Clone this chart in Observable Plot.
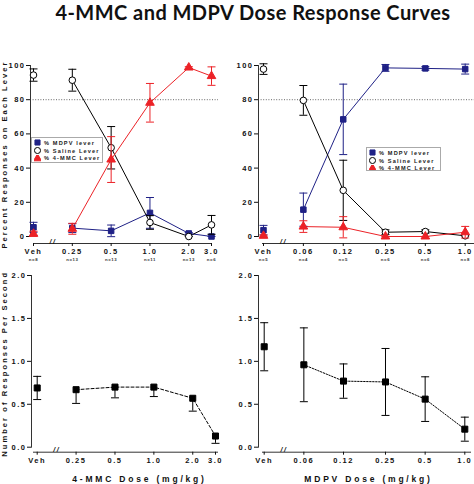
<!DOCTYPE html>
<html>
<head>
<meta charset="utf-8">
<script src="https://cdn.jsdelivr.net/npm/d3@7"></script>
<script src="https://cdn.jsdelivr.net/npm/@observablehq/plot@0.6"></script>
<style>
  body { margin: 0; background: #fff; }
  #fig { position: relative; width: 474px; height: 484px; overflow: hidden; background: #fff; }
  #title { position: absolute; left: 0; top: 0; width: 474px; padding-left: 32px; box-sizing: border-box; text-align: center;
           line-height: normal; font-family: Lato, "Open Sans", sans-serif; font-weight: bold; font-size: 20px;
           letter-spacing: 0.45px; color: #111; white-space: nowrap; }
  .panel { position: absolute; }
  .panel svg { max-width: none; display: block; }
  .legend { position: absolute; border: 1px solid #aaa; background: #fff; padding: 1px 2px;
            font-family: "Liberation Sans", Arial, sans-serif; font-weight: bold; font-size: 5.6px;
            letter-spacing: 1.15px; color: #222; box-sizing: border-box; overflow: hidden; }
  .legend .row { display: flex; align-items: center; height: 7.8px; white-space: nowrap; }
  .legend svg { margin-right: 3px; flex: none; }
</style>
</head>
<body>
<div id="fig"><div id="title">4-MMC and MDPV Dose Response Curves</div></div>
<script>
// ---------- data ----------
const mmcDoseLabels = ["Veh", "0.25", "0.5", "1.0", "2.0", "3.0"];
const mmcNLabels = ["n=8", "n=13", "n=13", "n=11", "n=13", "n=6"];
const mdpvDoseLabels = ["Veh", "0.06", "0.12", "0.25", "0.5", "1.0"];
const mdpvNLabels = ["n=5", "n=4", "n=5", "n=6", "n=6", "n=8"];

const seriesNames = ["% MDPV lever", "% Saline Lever", "% 4-MMC Lever"];

// 4-MMC test: percent responses on each lever
const mmcPctMdpvLever    = [5.4, 4.9, 3.3, 13.8, 1.8, 0];
const mmcPctMdpvLeverSem = [2.9, 2.6, 3.4, 9.0, 0.5, 0];
const mmcPctSaline       = [94.4, 91.4, 51.9, 8.2, 0, 6.8];
const mmcPctSalineSem    = [3.6, 6.4, 12.4, 4.0, 0, 5.5];
const mmcPctMmcLever     = [1.6, 4.5, 45.0, 78.2, 98.8, 93.8];
const mmcPctMmcLeverSem  = [1.5, 3.2, 13.4, 11.3, 0.5, 5.4];

// MDPV test: percent responses on each lever
const mdpvPctMdpvLever    = [3.7, 15.7, 68.5, 98.6, 98.3, 97.9];
const mdpvPctMdpvLeverSem = [2.8, 9.7, 20.6, 2.0, 1.0, 2.9];
const mdpvPctSaline       = [97.9, 79.6, 27.0, 2.5, 2.9, 0.4];
const mdpvPctSalineSem    = [3.1, 8.7, 17.6, 1.4, 1.0, 0];
const mdpvPctMmcLever     = [0.4, 5.8, 5.4, 0, 0, 2.5];
const mdpvPctMmcLeverSem  = [0.5, 3.4, 6.2, 0, 0, 3.4];

// response rates (responses per second)
const mmcRate     = [0.69, 0.67, 0.70, 0.70, 0.57, 0.13];
const mmcRateSem  = [0.135, 0.16, 0.125, 0.11, 0.15, 0.085];
const mdpvRate    = [1.17, 0.96, 0.77, 0.76, 0.56, 0.21];
const mdpvRateSem = [0.28, 0.43, 0.20, 0.39, 0.26, 0.14];

const pctTicks = [0, 20, 40, 60, 80, 100];
const rateTicks = [0, 0.5, 1.0, 1.5, 2.0];
const criterion = 80;

const mmcXTitle = "4-MMC Dose (mg/kg)";
const mdpvXTitle = "MDPV Dose (mg/kg)";
const pctYTitle = "Percent Responses on Each Lever";
const rateYTitle = "Number of Responses Per Second";

// ---------- styling ----------
const NAVY = "#1f2186", RED = "#ec2227", BLACK = "#000";
const seriesStyle = [
  {symbol: "square", fill: NAVY, stroke: NAVY, color: NAVY, r: 3.1},
  {symbol: "circle", fill: "#fff", stroke: BLACK, color: BLACK, r: 3.3},
  {symbol: "triangle", fill: RED, stroke: RED, color: RED, r: 3.2}
];
const cap = {draw(ctx, size) { const r = Math.sqrt(size / Math.PI); ctx.moveTo(-r, 0); ctx.lineTo(r, 0); }};

function dosePositions(labels) {
  const nums = labels.map(l => l === "Veh" ? NaN : +l);
  const first = nums.find(v => !isNaN(v));
  return nums.map(v => isNaN(v) ? first / 2 : v); // vehicle drawn before the axis break
}

function rowsOf(xs, mean, sem, lowerOnlyAfterVeh) {
  return xs.map((x, i) => ({
    x, y: mean[i],
    lo: mean[i] - sem[i],
    hi: lowerOnlyAfterVeh && i > 0 ? mean[i] : mean[i] + sem[i]
  }));
}

const fig = document.getElementById("fig");

function panel(cfg) {
  const xs = dosePositions(cfg.labels);
  const marks = [];
  if (cfg.criterion != null) marks.push(Plot.ruleY([cfg.criterion], {stroke: "#666", strokeDasharray: "1,1.6", strokeWidth: 1}));
  marks.push(
    Plot.frame({anchor: "left", insetBottom: cfg.gapY, stroke: "#333"}),
    Plot.frame({anchor: "bottom", insetLeft: cfg.axInL, insetRight: cfg.axInR, stroke: "#333"}),
    Plot.axisY({ticks: cfg.yTicks, tickFormat: cfg.yFormat, tickSize: 4, tickPadding: 1, fontSize: 7.5,
                label: cfg.yTitle ?? null, labelAnchor: "center", labelArrow: "none", labelOffset: cfg.mL - 1}),
    Plot.axisX({ticks: xs, tickFormat: () => "", tickSize: 3, label: null}),
    // dose tick labels (drawn as text so the log scale does not thin them out)
    Plot.text(cfg.labels, {x: xs, text: d => d, frameAnchor: "bottom", dy: 5, lineAnchor: "top", fontSize: 7.5}),
    Plot.text(["//"], {x: [Math.sqrt(xs[0] * xs[1])], frameAnchor: "bottom", fontSize: 7, fontStyle: "italic", text: d => d})
  );
  if (cfg.nLabels) marks.push(Plot.text(cfg.nLabels, {x: xs, text: d => d, frameAnchor: "bottom", dy: 17, fontSize: 4.3, fill: "#333"}));
  if (cfg.xTitle) marks.push(Plot.text([cfg.xTitle], {text: d => d, frameAnchor: "bottom", dx: cfg.xTitleDx, dy: 30, fontSize: 8.5}));

  cfg.series.forEach(s => {
    const rows = rowsOf(xs, s.mean, s.sem, s.lowerOnly);
    marks.push(Plot.line(rows.slice(1), {x: "x", y: "y", stroke: s.style.color, strokeWidth: 1, strokeDasharray: s.dash}));
  });
  cfg.series.forEach(s => {
    const rows = rowsOf(xs, s.mean, s.sem, s.lowerOnly);
    const st = s.style;
    marks.push(
      Plot.ruleX(rows, {x: "x", y1: "lo", y2: "hi", stroke: st.color, strokeWidth: 1}),
      Plot.dot(rows, {x: "x", y: "lo", symbol: cap, r: 4, stroke: st.color, fill: "none", strokeWidth: 1}),
      Plot.dot(rows.filter(d => d.hi > d.y), {x: "x", y: "hi", symbol: cap, r: 4, stroke: st.color, fill: "none", strokeWidth: 1}),
      Plot.dot(rows, {x: "x", y: "y", symbol: st.symbol, r: st.r, fill: st.fill, stroke: st.stroke, strokeWidth: 1})
    );
  });

  const svg = Plot.plot({
    width: cfg.width, height: cfg.height,
    marginLeft: cfg.mL, marginRight: cfg.mR, marginTop: cfg.mT, marginBottom: cfg.mB,
    x: {type: "log", domain: [xs[0], xs[xs.length - 1]], range: cfg.xRange},
    y: {domain: cfg.yDomain, range: cfg.yRange},
    style: {fontFamily: "'Liberation Sans', Arial, sans-serif", fontWeight: "bold", letterSpacing: "1.5px",
            background: "transparent", color: "#111", overflow: "visible"},
    marks
  });
  d3.select(svg).selectAll("text").filter(function () { return this.textContent === cfg.xTitle; })
    .style("letter-spacing", "2.8px");
  d3.select(svg).selectAll("text").filter(function () { return /^n=/.test(this.textContent); })
    .style("letter-spacing", "0.6px");
  d3.select(svg).selectAll("text").filter(function () { return this.textContent === cfg.yTitle; })
    .style("letter-spacing", "2.1px");
  const div = document.createElement("div");
  div.className = "panel";
  div.style.left = cfg.left + "px"; div.style.top = cfg.top + "px";
  div.style.width = cfg.width + "px"; div.style.height = cfg.height + "px";
  div.appendChild(svg);
  fig.appendChild(div);
}

function legend(left, top, width, height) {
  const div = document.createElement("div");
  div.className = "legend";
  Object.assign(div.style, {left: left + "px", top: top + "px", width: width + "px", height: height + "px"});
  seriesNames.forEach((name, k) => {
    const st = seriesStyle[k];
    const row = document.createElement("div");
    row.className = "row";
    const sz = 7;
    const sym = {square: d3.symbolSquare, circle: d3.symbolCircle, triangle: d3.symbolTriangle}[st.symbol];
    const s = d3.create("svg").attr("width", sz).attr("height", sz);
    s.append("path").attr("transform", `translate(${sz / 2},${sz / 2})`)
      .attr("d", d3.symbol(sym, Math.PI * st.r * st.r * 0.85)())
      .attr("fill", st.fill).attr("stroke", st.stroke).attr("stroke-width", 1);
    row.appendChild(s.node());
    const span = document.createElement("span");
    span.textContent = name;
    row.appendChild(span);
    div.appendChild(row);
  });
  fig.appendChild(div);
}

const pctSeries = (m, ms, s, ss, r, rs) => [
  {mean: m, sem: ms, style: seriesStyle[0]},
  {mean: s, sem: ss, style: seriesStyle[1]},
  {mean: r, sem: rs, style: seriesStyle[2]}
];

// top-left: 4-MMC discrimination
panel({
  labels: mmcDoseLabels, nLabels: mmcNLabels,
  series: pctSeries(mmcPctMdpvLever, mmcPctMdpvLeverSem, mmcPctSaline, mmcPctSalineSem, mmcPctMmcLever, mmcPctMmcLeverSem),
  left: 0, top: 44, width: 237, height: 222, mL: 30, mR: 19, mT: 21, mB: 23,
  xRange: [33, 211], yRange: [192, 21], yDomain: [0, 100], gapY: 7, axInL: 3, axInR: 7,
  yTicks: pctTicks, yFormat: d => String(d), yTitle: pctYTitle, criterion
});
// top-right: MDPV discrimination
panel({
  labels: mdpvDoseLabels, nLabels: mdpvNLabels,
  series: pctSeries(mdpvPctMdpvLever, mdpvPctMdpvLeverSem, mdpvPctSaline, mdpvPctSalineSem, mdpvPctMmcLever, mdpvPctMmcLeverSem),
  left: 237, top: 44, width: 237, height: 222, mL: 21, mR: 0, mT: 21, mB: 23,
  xRange: [26, 227.7], yRange: [192, 21], yDomain: [0, 100], gapY: 7, axInL: 4, axInR: 0,
  yTicks: pctTicks, yFormat: d => String(d), criterion
});
// bottom-left: 4-MMC rates
panel({
  labels: mmcDoseLabels,
  series: [{mean: mmcRate, sem: mmcRateSem, lowerOnly: true, dash: "3,2",
            style: {symbol: "square", fill: BLACK, stroke: BLACK, color: BLACK, r: 3.4}}],
  left: 0, top: 265, width: 237, height: 219, mL: 31, mR: 20, mT: 10, mB: 32.3,
  xRange: [36.7, 215], yRange: [181.7, 10], yDomain: [0, 2], gapY: 5, axInL: 2, axInR: 0,
  yTicks: rateTicks, yFormat: d3.format(".1f"), yTitle: rateYTitle, xTitle: mmcXTitle, xTitleDx: 15
});
// bottom-right: MDPV rates
panel({
  labels: mdpvDoseLabels,
  series: [{mean: mdpvRate, sem: mdpvRateSem, dash: "1.5,1.5",
            style: {symbol: "square", fill: BLACK, stroke: BLACK, color: BLACK, r: 3.4}}],
  left: 237, top: 265, width: 237, height: 219, mL: 21, mR: 4, mT: 10, mB: 32.3,
  xRange: [26.7, 227.3], yRange: [181.7, 10], yDomain: [0, 2], gapY: 5, axInL: 4, axInR: 0,
  yTicks: rateTicks, yFormat: d3.format(".1f"), xTitle: mdpvXTitle, xTitleDx: 4
});

legend(31, 137, 72, 26);
legend(366, 147, 75, 24);
</script>
</body>
</html>
